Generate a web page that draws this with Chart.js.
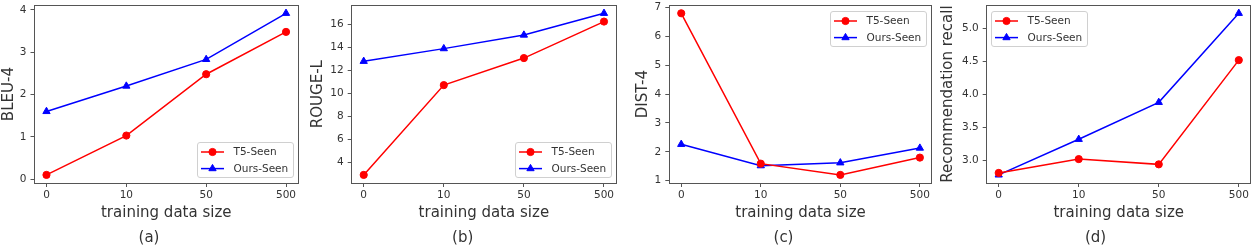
<!DOCTYPE html>
<html><head><meta charset="utf-8">
<script src="https://cdn.jsdelivr.net/npm/chart.js@4.4.1/dist/chart.umd.min.js"></script>
<style>
html,body{margin:0;padding:0;background:#fff;width:1256px;height:250px;overflow:hidden;position:relative}
canvas{position:absolute;top:0}
</style></head><body>
<script>
// ---- data ----
const categories = ['0', '10', '50', '500'];
const seriesNames = ['T5-Seen', 'Ours-Seen'];
const bleuT5 = [0.10, 1.03, 2.48, 3.48];
const bleuOurs = [1.60, 2.20, 2.83, 3.92];
const rougeT5 = [2.93, 10.73, 13.08, 16.25];
const rougeOurs = [12.80, 13.90, 15.08, 16.97];
const distT5 = [6.80, 1.59, 1.20, 1.80];
const distOurs = [2.26, 1.52, 1.62, 2.13];
const recallT5 = [2.81, 3.02, 2.94, 4.52];
const recallOurs = [2.78, 3.32, 3.88, 5.23];
const bleuTicks = [0, 1, 2, 3, 4];
const rougeTicks = [4, 6, 8, 10, 12, 14, 16];
const distTicks = [1, 2, 3, 4, 5, 6, 7];
const recallTicks = [3.0, 3.5, 4.0, 4.5, 5.0];
const yTitles = ['BLEU-4', 'ROUGE-L', 'DIST-4', 'Recommendation recall'];
const captions = ['(a)', '(b)', '(c)', '(d)'];
const xTitle = 'training data size';

// ---- layout / style ----
const FONT = "'DejaVu Sans', 'Liberation Sans', sans-serif";
const TXT = '#333';
const FRAME = '#555';
const RED = '#ff0000', BLUE = '#0000ff';

const panels = [
  {left: 0,   width: 305, padLeft: 0,   yWidth: 34.5, padRight: 7,   padTop: 4.5, t5: bleuT5,   ours: bleuOurs,   ticks: bleuTicks,   dec: 0, k: 0, loc: 'lower right'},
  {left: 305, width: 317, padLeft: 4.3, yWidth: 42.4, padRight: 6,   padTop: 5,   t5: rougeT5,  ours: rougeOurs,  ticks: rougeTicks,  dec: 0, k: 1, loc: 'lower right'},
  {left: 625, width: 312, padLeft: 9.3, yWidth: 35,   padRight: 4.3, padTop: 5,   t5: distT5,   ours: distOurs,   ticks: distTicks,   dec: 0, k: 2, loc: 'upper right'},
  {left: 937, width: 319, padLeft: 2.3, yWidth: 47.4, padRight: 4.3, padTop: 5,   t5: recallT5, ours: recallOurs, ticks: recallTicks, dec: 1, k: 3, loc: 'upper left'}
];

function drawMarker(ctx, style, x, y, r, color) {
  ctx.fillStyle = color; ctx.strokeStyle = color; ctx.lineWidth = 1;
  ctx.beginPath();
  if (style === 'circle') {
    ctx.arc(x, y, r, 0, Math.PI * 2);
  } else {
    const h = r * 1.5, b = r * Math.sqrt(3) / 2;
    ctx.moveTo(x, y - r);
    ctx.lineTo(x + b, y + r / 2);
    ctx.lineTo(x - b, y + r / 2);
    ctx.closePath();
  }
  ctx.fill(); ctx.stroke();
}

const framePlugin = {
  id: 'mplFrame',
  afterDraw(chart, args, opts) {
    const {ctx, chartArea: a} = chart;
    ctx.save();
    // frame (all four spines)
    const l = Math.floor(a.left) + 0.5, t = Math.floor(a.top) + 0.5;
    const r = Math.floor(a.right) + 0.5, b = Math.floor(a.bottom) + 0.5;
    ctx.strokeStyle = FRAME; ctx.lineWidth = 1;
    ctx.strokeRect(l, t, r - l, b - t);
    // legend
    const w = 96, h = 35;
    let x0, y0;
    if (opts.loc === 'lower right') { x0 = a.right - 5.5 - w; y0 = a.bottom - 6.5 - h; }
    else if (opts.loc === 'upper right') { x0 = a.right - 5.5 - w; y0 = a.top + 5.5; }
    else { x0 = a.left + 4.5; y0 = a.top + 5.5; }
    x0 = Math.round(x0) + 0.5; y0 = Math.round(y0) + 0.5;
    const rad = 2.5;
    ctx.beginPath();
    ctx.moveTo(x0 + rad, y0);
    ctx.arcTo(x0 + w, y0, x0 + w, y0 + h, rad);
    ctx.arcTo(x0 + w, y0 + h, x0, y0 + h, rad);
    ctx.arcTo(x0, y0 + h, x0, y0, rad);
    ctx.arcTo(x0, y0, x0 + w, y0, rad);
    ctx.closePath();
    ctx.fillStyle = 'rgba(255,255,255,0.8)';
    ctx.fill();
    ctx.strokeStyle = '#d0d0d0'; ctx.lineWidth = 1;
    ctx.stroke();
    chart.data.datasets.forEach((ds, i) => {
      const cy = y0 + 9.5 + i * 16.6;
      ctx.strokeStyle = ds.borderColor; ctx.lineWidth = 1.5;
      ctx.beginPath(); ctx.moveTo(x0 + 3.5, cy); ctx.lineTo(x0 + 26.5, cy); ctx.stroke();
      drawMarker(ctx, ds.pointStyle, x0 + 15, cy, ds.pointRadius, ds.borderColor);
      ctx.fillStyle = TXT;
      ctx.font = '10.5px ' + FONT;
      ctx.textBaseline = 'middle'; ctx.textAlign = 'left';
      ctx.fillText(ds.label, x0 + 36, cy + 0.5);
    });
    ctx.restore();
  }
};

panels.forEach(p => {
  const cv = document.createElement('canvas');
  cv.width = p.width; cv.height = 250;
  cv.style.left = p.left + 'px';
  cv.style.width = p.width + 'px'; cv.style.height = '250px';
  document.body.appendChild(cv);

  const all = p.t5.concat(p.ours);
  const lo = Math.min(...all), hi = Math.max(...all), m = (hi - lo) * 0.05;
  const toXY = arr => arr.map((v, i) => ({x: i, y: v}));

  new Chart(cv.getContext('2d'), {
    type: 'line',
    data: {
      datasets: [
        {label: seriesNames[0], data: toXY(p.t5), borderColor: RED, backgroundColor: RED,
         pointBackgroundColor: RED, pointBorderColor: RED, pointStyle: 'circle', pointRadius: 3.6,
         pointBorderWidth: 1, borderWidth: 1.5, tension: 0, fill: false},
        {label: seriesNames[1], data: toXY(p.ours), borderColor: BLUE, backgroundColor: BLUE,
         pointBackgroundColor: BLUE, pointBorderColor: BLUE, pointStyle: 'triangle', pointRadius: 4.2,
         pointBorderWidth: 1, borderWidth: 1.5, tension: 0, fill: false}
      ]
    },
    options: {
      responsive: false,
      animation: false,
      devicePixelRatio: 1,
      layout: {padding: {left: p.padLeft, right: p.padRight, top: p.padTop, bottom: 0}},
      plugins: {
        legend: {display: false},
        tooltip: {enabled: false},
        title: {display: true, position: 'bottom', text: captions[p.k], color: TXT,
                font: {family: FONT, size: 15, weight: 'normal', lineHeight: 1.2},
                padding: {top: 7, bottom: 3}},
        mplFrame: {loc: p.loc}
      },
      scales: {
        x: {
          type: 'linear', min: -0.15, max: 3.15,
          afterBuildTicks: s => { s.ticks = categories.map((c, i) => ({value: i})); },
          afterFit: s => { s.height = 39; s.paddingLeft = 0; s.paddingRight = 0; },
          ticks: {callback: v => categories[v], color: TXT, padding: 2,
                  font: {family: FONT, size: 10.5}, maxRotation: 0, autoSkip: false},
          grid: {drawOnChartArea: false, drawTicks: true, tickLength: 4, color: FRAME, tickWidth: 1},
          border: {display: false},
          title: {display: true, text: xTitle, color: TXT, padding: 0,
                  font: {family: FONT, size: 15, lineHeight: 1.2}}
        },
        y: {
          type: 'linear', min: lo - m, max: hi + m,
          afterBuildTicks: s => { s.ticks = p.ticks.map(v => ({value: v})); },
          afterFit: s => { s.width = p.yWidth; s.paddingTop = 0; s.paddingBottom = 0; },
          ticks: {callback: v => Number(v).toFixed(p.dec), color: TXT, padding: 4,
                  font: {family: FONT, size: 10.5}, autoSkip: false},
          grid: {drawOnChartArea: false, drawTicks: true, tickLength: 4, color: FRAME, tickWidth: 1},
          border: {display: false},
          title: {display: true, text: yTitles[p.k], color: TXT, padding: 0,
                  font: {family: FONT, size: 15, lineHeight: 1.2}}
        }
      }
    },
    plugins: [framePlugin]
  });
});
</script>
</body></html>
